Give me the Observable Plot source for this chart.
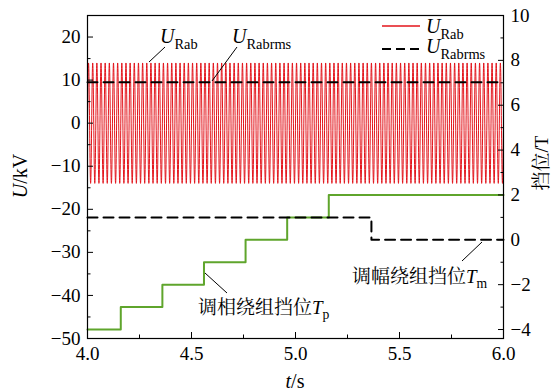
<!DOCTYPE html>
<html><head><meta charset="utf-8">
<script src="https://cdn.jsdelivr.net/npm/d3@7"></script>
<script src="https://cdn.jsdelivr.net/npm/@observablehq/plot@0.6"></script>
<style>
html,body{margin:0;padding:0;background:#fff;}
</style></head><body><div id="chart"></div>
<script>
// ---------------- data ----------------
const tDomain = [4.0, 6.0];                 // time axis, s
const uLeftDomain = [-50, 25];              // U / kV axis
const tapRightDomain = [-4.4, 10];          // tap position axis
const uabPeak = 14.0;                       // kV, peak of U_Rab
const uabFreq = 50;                         // Hz
const uabStep = 0.0004;                     // s, sampling step
const urmsTimes = [4.0, 6.0];
const urmsValues = [9.5, 9.5];              // kV
const tpTimes  = [4.0, 4.16, 4.36, 4.56, 4.76, 4.96, 5.16, 6.0];
const tpValues = [-4, -3, -2, -1, 0, 1, 2, 2];
const tmTimes  = [4.0, 5.365, 6.0];
const tmValues = [1, 0, 0];
const xTicks = [4.0, 4.5, 5.0, 5.5, 6.0];
const xMinorTicks = [4.25, 4.75, 5.25, 5.75];
const leftTicks = [-50, -40, -30, -20, -10, 0, 10, 20];
const leftMinorTicks = [-45, -35, -25, -15, -5, 5, 15];
const rightTicks = [-4, -2, 0, 2, 4, 6, 8, 10];
const rightMinorTicks = [-3, -1, 1, 3, 5, 7, 9];

// ---------------- tables ----------------
const uab = [];
for (let t = tDomain[0]; t <= tDomain[1] + 1e-9; t += uabStep) {
  uab.push({t, u: uabPeak * Math.sin(2 * Math.PI * uabFreq * t)});
}
const urms = urmsTimes.map((t, i) => ({t, u: urmsValues[i]}));
const tp = tpTimes.map((t, i) => ({t, v: tpValues[i]}));
const tm = tmTimes.map((t, i) => ({t, v: tmValues[i]}));

// map right-axis (tap) values into left-axis coordinates
const kR = (uLeftDomain[1] - uLeftDomain[0]) / (tapRightDomain[1] - tapRightDomain[0]);
const r2l = v => uLeftDomain[0] + (v - tapRightDomain[0]) * kR;
const l2r = u => tapRightDomain[0] + (u - uLeftDomain[0]) / kR;
const fmt = d => { const r = Math.round(d * 1000) / 1000; return r < 0 ? "\u2212" + Math.abs(r) : String(r); };

const RED = "#e3141b", GREEN = "#5fa52c";
const LATIN = "Liberation Serif";
const CJK = "Noto Serif CJK SC";
const FS = 19;
const tickText = {fontFamily: LATIN, fontSize: FS, fontVariant: "normal", label: null};

const plot = Plot.plot({
  width: 560, height: 392,
  marginLeft: 87, marginRight: 57, marginTop: 15, marginBottom: 54,
  x: {domain: tDomain},
  y: {domain: uLeftDomain},
  style: {background: "#fff", color: "#000", overflow: "visible"},
  marks: [
    Plot.line(uab, {x: "t", y: "u", stroke: RED, strokeWidth: 1}),
    Plot.line(urms, {x: "t", y: "u", stroke: "#000", strokeWidth: 2, strokeDasharray: "10,6"}),
    Plot.line(tp, {x: "t", y: d => r2l(d.v), curve: "step-after", stroke: GREEN, strokeWidth: 2}),
    Plot.line(tm, {x: "t", y: d => r2l(d.v), curve: "step-after", stroke: "#000", strokeWidth: 2, strokeDasharray: "10,6"}),
    Plot.frame({stroke: "#000", strokeWidth: 1.2}),
    // bottom axis
    Plot.axisX(xTicks, {anchor: "bottom", tickSize: 0, tickPadding: 8, tickFormat: d => d.toFixed(1), ...tickText}),
    Plot.axisX(xTicks, {anchor: "bottom", tickSize: -6, tickFormat: () => "", label: null}),
    Plot.axisX(xMinorTicks, {anchor: "bottom", tickSize: -3.5, tickFormat: () => "", label: null}),
    // left axis
    Plot.axisY(leftTicks, {anchor: "left", tickSize: 0, tickPadding: 7, tickFormat: fmt, ...tickText}),
    Plot.axisY(leftTicks, {anchor: "left", tickSize: -6, tickFormat: () => "", label: null}),
    Plot.axisY(leftMinorTicks, {anchor: "left", tickSize: -3.5, tickFormat: () => "", label: null}),
    // right axis
    Plot.axisY(rightTicks.map(r2l), {anchor: "right", tickSize: 0, tickPadding: 7, tickFormat: d => fmt(l2r(d)), ...tickText}),
    Plot.axisY(rightTicks.map(r2l), {anchor: "right", tickSize: -6, tickFormat: () => "", label: null}),
    Plot.axisY(rightMinorTicks.map(r2l), {anchor: "right", tickSize: -3.5, tickFormat: () => "", label: null})
  ]
});
document.getElementById("chart").appendChild(plot);

// ---------------- rich-text labels (layout) ----------------
const svg = d3.select(plot);
const g = svg.append("g").attr("fill", "#000");

function rich(x, y, parts, {size = FS, anchor = "start", rotate = 0} = {}) {
  const grp = g.append("g").attr("transform", `translate(${x},${y}) rotate(${rotate})`);
  const txt = grp.append("text").attr("text-anchor", anchor).attr("font-size", size)
    .attr("font-family", LATIN);
  let shifted = 0;
  for (const p of parts) {
    const ts = txt.append("tspan").text(p.text).attr("font-family", p.cjk ? CJK : LATIN);
    if (p.italic) ts.attr("font-style", "italic");
    if (p.sub) { ts.attr("font-size", size * 0.72).attr("dy", size * 0.28 - shifted); shifted = size * 0.28; }
    else if (shifted) { ts.attr("dy", -shifted); shifted = 0; }
  }
  return txt;
}
function leader(x1, y1, x2, y2) {
  g.append("line").attr("x1", x1).attr("y1", y1).attr("x2", x2).attr("y2", y2)
    .attr("stroke", "#000").attr("stroke-width", 1);
}

// axis titles
rich(27, 176, [{text: "U", italic: true}, {text: "/kV"}], {anchor: "middle", rotate: -90, size: 20});
rich(548, 163, [{text: "挡位", cjk: true}, {text: "/T"}], {anchor: "middle", rotate: -90, size: 19});
rich(295, 388, [{text: "t", italic: true}, {text: "/s"}], {anchor: "middle", size: 20});

// annotations
rich(160, 43, [{text: "U", italic: true}, {text: "Rab", sub: true}], {size: 20});
leader(165, 47, 149, 62);
rich(232, 43, [{text: "U", italic: true}, {text: "Rabrms", sub: true}], {size: 20});
leader(237, 47, 212, 81);
rich(198, 314, [{text: "调相绕组挡位", cjk: true}, {text: "T", italic: true}, {text: "p", sub: true}], {size: 19});
leader(227, 293, 205, 273);
rich(352, 283, [{text: "调幅绕组挡位", cjk: true}, {text: "T", italic: true}, {text: "m", sub: true}], {size: 19});
leader(462, 261, 482, 242);

// legend
g.append("line").attr("x1", 382).attr("x2", 420).attr("y1", 26).attr("y2", 26).attr("stroke", RED).attr("stroke-width", 1.5);
rich(426, 33, [{text: "U", italic: true}, {text: "Rab", sub: true}], {size: 20});
g.append("line").attr("x1", 382).attr("x2", 420).attr("y1", 49).attr("y2", 49).attr("stroke", "#000").attr("stroke-width", 2).attr("stroke-dasharray", "9,5");
rich(426, 53, [{text: "U", italic: true}, {text: "Rabrms", sub: true}], {size: 20});
</script>
</body></html>
